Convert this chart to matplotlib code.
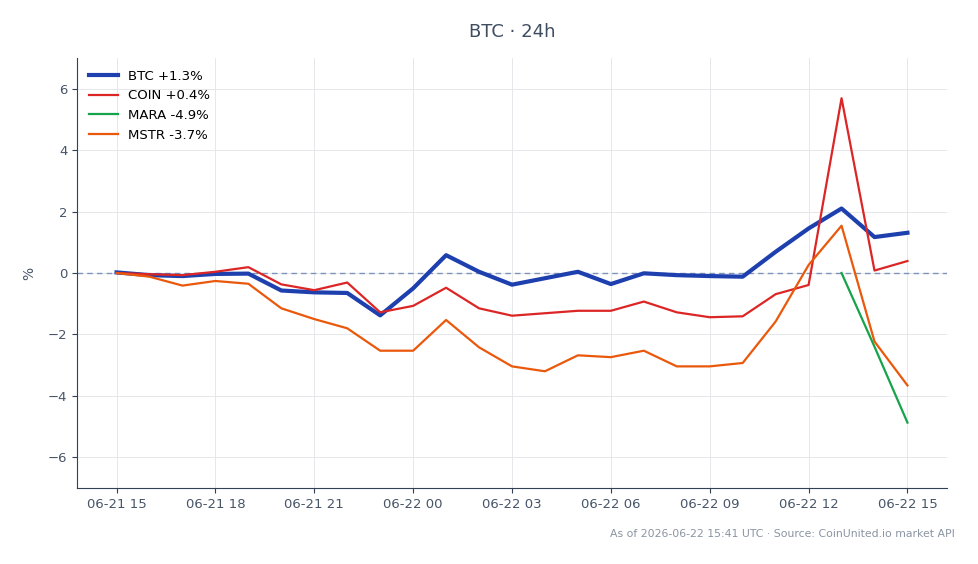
import datetime as dt

import matplotlib
matplotlib.use('Agg')
import matplotlib.pyplot as plt
import matplotlib.dates as mdates


# data (% change vs start, hourly)
start = dt.datetime(2026, 6, 21, 15)
hours = [start + dt.timedelta(hours=h) for h in range(25)]

btc = [0.02, -0.07, -0.1, -0.03, -0.02, -0.57, -0.63, -0.65, -1.38, -0.5,
       0.58, 0.04, -0.38, -0.17, 0.04, -0.36, -0.01, -0.07, -0.1, -0.12,
       0.69, 1.45, 2.1, 1.17, 1.31]
coin = [0.0, -0.04, -0.07, 0.04, 0.19, -0.37, -0.56, -0.31, -1.28, -1.07,
        -0.48, -1.15, -1.39, -1.31, -1.23, -1.23, -0.93, -1.28, -1.44, -1.41,
        -0.69, -0.39, 5.69, 0.08, 0.39]
mstr = [0.0, -0.12, -0.41, -0.26, -0.35, -1.15, -1.5, -1.8, -2.53, -2.53,
        -1.53, -2.42, -3.04, -3.2, -2.68, -2.74, -2.53, -3.04, -3.04, -2.93,
        -1.58, 0.26, 1.54, -2.23, -3.66]
mara_hours = hours[22:]
mara = [0.0, -2.4, -4.87]

series = [
    ('BTC +1.3%', hours, btc, '#1e40af', 3.0),
    ('COIN +0.4%', hours, coin, '#dc2626', 1.6),
    ('MARA -4.9%', mara_hours, mara, '#16a34a', 1.6),
    ('MSTR -3.7%', hours, mstr, '#ea580c', 1.6),
]

text_col = '#475569'
spine_col = '#334155'

fig = plt.figure(figsize=(9.79, 5.64), dpi=100)
ax = fig.add_axes([77/979, 1 - 488/564, 870/979, 430/564])

for name, x, y, c, lw in series:
    ax.plot(x, y, color=c, lw=lw, label=name)

ax.axhline(0, color='#7d93b8', lw=1, ls=(0, (4, 3)), zorder=1.5)

ax.set_ylim(-7, 7)
ax.set_yticks([-6, -4, -2, 0, 2, 4, 6])
ax.xaxis.set_major_locator(mdates.HourLocator(byhour=range(0, 24, 3)))
ax.xaxis.set_major_formatter(mdates.DateFormatter('%m-%d %H'))

ax.grid(True, color='#e5e7eb', lw=0.7)
ax.set_axisbelow(True)
for s in ['top', 'right']:
    ax.spines[s].set_visible(False)
for s in ['left', 'bottom']:
    ax.spines[s].set_color(spine_col)
ax.tick_params(colors=text_col, labelsize=9.5)
ax.tick_params(axis='both', color=spine_col)

ax.set_ylabel('%', color=text_col, fontsize=10, labelpad=8)
ax.set_title('BTC · 24h', color='#3f4d61', fontsize=13, pad=15)

leg = ax.legend(loc='upper left', frameon=False, fontsize=9.5, handlelength=2.2)

fig.text(955/979, 1 - 534/564, 'As of 2026-06-22 15:41 UTC · Source: CoinUnited.io market API',
         ha='right', va='center', fontsize=7.8, color='#8a94a3')

fig.savefig('out.png', dpi=100)
